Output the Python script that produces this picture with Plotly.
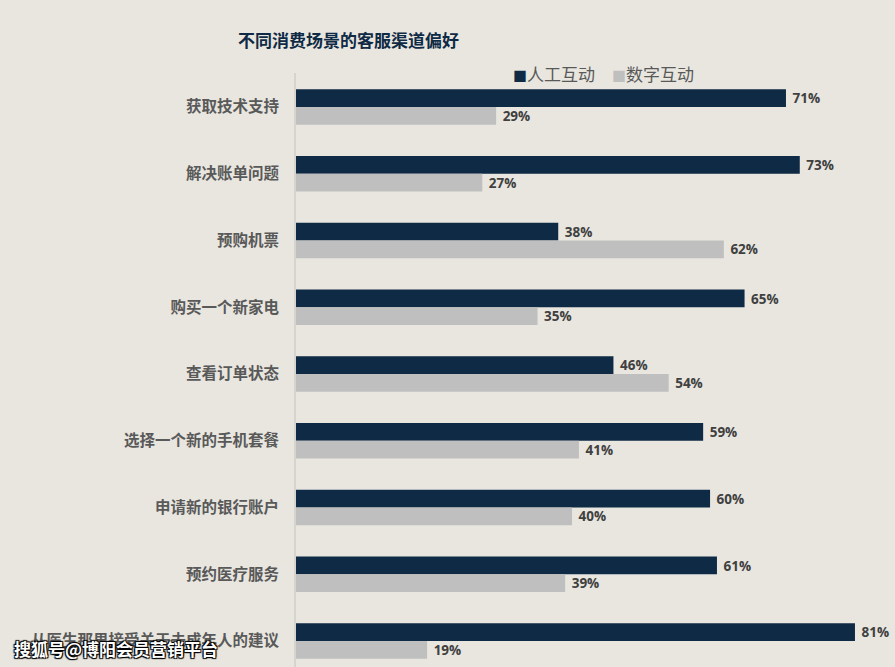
import plotly.graph_objects as go

categories = ["获取技术支持", "解决账单问题", "预购机票", "购买一个新家电", "查看订单状态",
              "选择一个新的手机套餐", "申请新的银行账户", "预约医疗服务", "从医生那里接受关于未成年人的建议"]
human = [71, 73, 38, 65, 46, 59, 60, 61, 81]
digital = [29, 27, 62, 35, 54, 41, 40, 39, 19]
series_names = ["人工互动", "数字互动"]

BG = "#e8e6df"
DARK = "#0f2a45"
GRAY = "#bfbfbf"
W, H = 895, 667
L = 296
T = 73
PH = H - T

fig = go.Figure()
for name, vals, col in [(series_names[0], human, DARK), (series_names[1], digital, GRAY)]:
    fig.add_trace(go.Bar(
        y=categories, x=vals, name=name, orientation="h",
        marker=dict(color=col, line=dict(width=0)),
        text=[f"\u00a0{v}%" for v in vals], textposition="outside",
        textfont=dict(family="Open Sans, DejaVu Sans, sans-serif", size=14.5, color="#404040", weight="bold"),
        cliponaxis=False, showlegend=False,
    ))

fig.update_layout(
    width=W, height=H,
    paper_bgcolor=BG, plot_bgcolor=BG,
    margin=dict(l=L, r=0, t=T, b=0),
    barmode="group", bargap=0.47, bargroupgap=0,
    title=dict(text="<b>不同消费场景的客服渠道偏好</b>", xref="container", yref="container",
               x=238 / W, xanchor="left", y=1 - 41 / H, yanchor="middle",
               font=dict(family="Noto Sans CJK SC, sans-serif", size=17, color=DARK)),
    xaxis=dict(range=[0, 86.8], visible=False, fixedrange=True),
    yaxis=dict(range=[8.39, -0.51], showgrid=False, zeroline=False,
               showline=True, linecolor="#d6d4ce", linewidth=2,
               ticks="", ticklabelstandoff=12,
               tickfont=dict(family="Noto Sans CJK SC, sans-serif", size=15.5, color="#595959", weight="bold")),
)

legend_text = (f"<span style='color:{DARK};font-size:14px'>■</span>{series_names[0]}"
               f"\u3000<span style='color:{GRAY};font-size:14px'>■</span>{series_names[1]}")
fig.add_annotation(text=legend_text, xref="paper", yref="paper",
                   x=-(L - 511) / (W - L), xanchor="left", y=1 - (73 - T) / PH, yanchor="middle",
                   showarrow=False,
                   font=dict(family="Noto Sans CJK SC, sans-serif", size=17, color="#595959"))

fig.add_annotation(text="<b>搜狐号@博阳会员营销平台</b>", xref="paper", yref="paper",
                   x=-(L - 12) / (W - L), xanchor="left", y=(H - 648) / PH, yanchor="middle",
                   showarrow=False,
                   font=dict(family="Noto Sans CJK SC, sans-serif", size=17, color="white",
                             shadow="1px 1px 1px #000, -1px -1px 1px #000, 1px -1px 1px #000, -1px 1px 1px #000"))

fig.write_html("out.html")
